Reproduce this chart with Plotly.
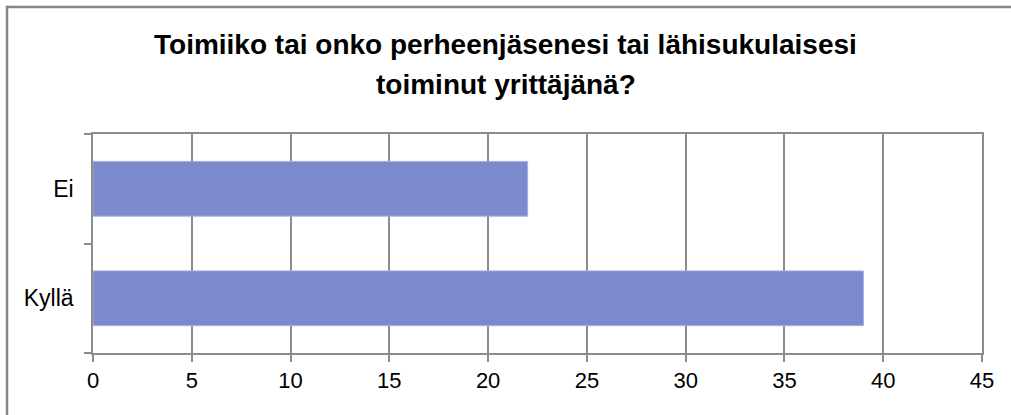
import plotly.graph_objects as go

categories = ["Kyllä", "Ei"]
values = [39, 22]
title_lines = ["Toimiiko tai onko perheenjäsenesi tai lähisukulaisesi", "toiminut yrittäjänä?"]
x_ticks = [0, 5, 10, 15, 20, 25, 30, 35, 40, 45]

W, H = 1011, 415
ml, mr, mt, mb = 93, 29, 134, 62
PW, PH = W - ml - mr, H - mt - mb


def px_x(p):
    return (p - ml) / PW


def px_y(p):
    return (H - mb - p) / PH


fig = go.Figure(go.Bar(
    x=values, y=categories, orientation="h",
    marker=dict(color="#7B89CD", line=dict(color="#A7B0E0", width=1)),
    width=0.5,
))

grid = "#8C8C8C"
border = "#878787"
font_fam = "Liberation Sans, Arial, sans-serif"
annotations = []
for i, (line, base) in enumerate(zip(title_lines, [54, 94])):
    annotations.append(dict(text=f"<b>{line}</b>", xref="paper", yref="paper",
                            x=px_x(W / 2), y=px_y(base - 9.7), xanchor="center", yanchor="middle",
                            showarrow=False, font=dict(size=28, family=font_fam, color="#000")))

fig.update_layout(
    width=W, height=H,
    margin=dict(l=ml, r=mr, t=mt, b=mb),
    paper_bgcolor="white", plot_bgcolor="white",
    font=dict(family=font_fam, size=22, color="#000"),
    showlegend=False,
    annotations=annotations,
    xaxis=dict(range=[0, 45], tickvals=x_ticks, showgrid=True, gridcolor=grid, gridwidth=1.5,
               showline=True, linecolor=grid, linewidth=1.5, mirror=True,
               ticks="outside", ticklen=7, tickcolor=grid, tickwidth=1.5,
               zeroline=False, fixedrange=True, tickfont=dict(size=22)),
    yaxis=dict(type="category", showgrid=False, showline=True, linecolor=grid, linewidth=1.5,
               mirror=True, ticks="outside", tickson="boundaries", ticklen=7, tickcolor=grid,
               tickwidth=1.5, range=[-0.5, 1.5], ticklabelstandoff=13, fixedrange=True,
               tickfont=dict(size=23)),
    shapes=[
        dict(type="line", xref="paper", yref="paper", x0=px_x(7), x1=px_x(W + 10),
             y0=px_y(7), y1=px_y(7), line=dict(color=border, width=2.5), layer="above"),
        dict(type="line", xref="paper", yref="paper", x0=px_x(7), x1=px_x(7),
             y0=px_y(5.8), y1=px_y(H + 10), line=dict(color=border, width=2.5), layer="above"),
    ],
)

fig.write_html("out.html", config={"displayModeBar": False},
               post_script="document.body.style.margin='0';document.body.style.padding='0';")
